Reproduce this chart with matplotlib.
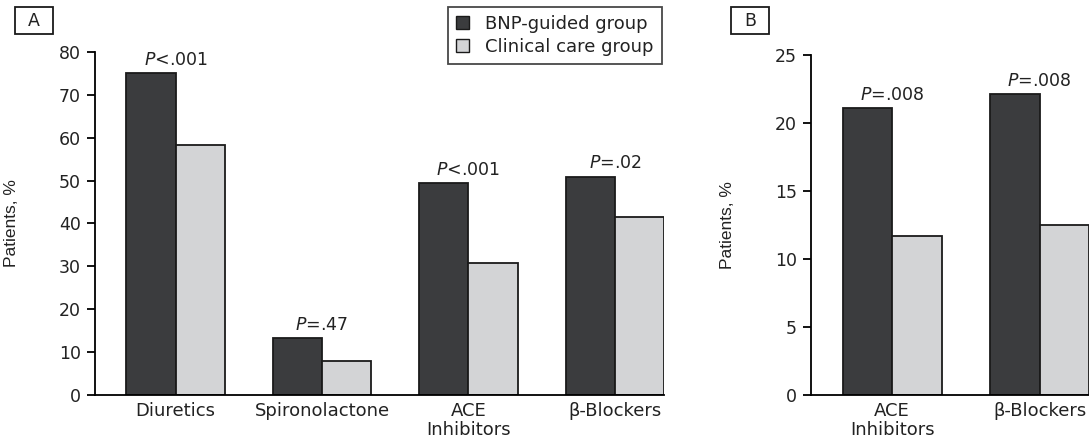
import numpy as np
import matplotlib
matplotlib.use("Agg")
import matplotlib.pyplot as plt
from matplotlib.patches import Rectangle, Patch

plt.rcParams['font.family'] = ['DejaVu Sans']
plt.rcParams['mathtext.fontset'] = 'dejavusans'

# data
cats_a = ["Diuretics", "Spironolactone", "ACE\nInhibitors", "\u03b2-Blockers"]
bnp_a = [75, 13.2, 49.4, 50.9]
care_a = [58.2, 8.0, 30.8, 41.4]
pvals_a = ["$P$<.001", "$P$=.47", "$P$<.001", "$P$=.02"]

cats_b = ["ACE\nInhibitors", "\u03b2-Blockers"]
bnp_b = [21.1, 22.1]
care_b = [11.7, 12.5]
pvals_b = ["$P$=.008", "$P$=.008"]

dark = "#3b3c3e"
light = "#d3d4d6"
edge = "#1a1a1a"
txt = "#222222"
W, H = 1089, 443
fs = 12.5

fig = plt.figure(figsize=(W / 100, H / 100), dpi=100)


def panel(rect, cats, bnp, care, pvals, ylim, step, label_x):
    ax = fig.add_axes(rect)
    x = np.arange(len(cats))
    w = 0.335
    ax.bar(x - w / 2, bnp, w, color=dark, edgecolor=edge, linewidth=1.3)
    ax.bar(x + w / 2, care, w, color=light, edgecolor=edge, linewidth=1.3)
    for xi, yi, p in zip(x, bnp, pvals):
        ax.annotate(p, (xi, yi), xytext=(0, 6), textcoords="offset points",
                    ha="center", va="baseline", fontsize=fs, color=txt)
    ax.set_xlim(-0.55, len(cats) - 1 + w)
    ax.set_ylim(0, ylim)
    ax.set_yticks(np.arange(0, ylim + 1, step))
    ax.set_xticks(x)
    ax.set_xticklabels(cats, linespacing=1.05)
    ax.tick_params(axis="x", length=0, pad=5, labelsize=13, labelcolor=txt)
    ax.tick_params(axis="y", length=6, width=1.3, pad=4, labelsize=fs, labelcolor=txt)
    for s in ["top", "right"]:
        ax.spines[s].set_visible(False)
    for s in ["left", "bottom"]:
        ax.spines[s].set_linewidth(1.3)
    ax.set_ylabel("Patients, %", family="Liberation Sans", fontsize=12.5, color=txt)
    ax.yaxis.set_label_coords(label_x, 0.5)
    return ax


bot = (H - 395) / H
panel([95 / W, bot, 569 / W, 343 / H], cats_a, bnp_a, care_a, pvals_a, 80, 10, -0.134)
panel([811 / W, bot, 278 / W, 340 / H], cats_b, bnp_b, care_b, pvals_b, 25, 5, -0.273)

# panel letters in boxes
for lx, letter in [(15, "A"), (731, "B")]:
    fig.patches.append(Rectangle((lx / W, 1 - 34 / H), 38 / W, 27 / H,
                                 transform=fig.transFigure, fill=False,
                                 edgecolor=edge, linewidth=1.3))
    fig.text((lx + 19) / W, 1 - 20.5 / H, letter, ha="center", va="center",
             fontsize=12.5, color=txt)

handles = [Patch(facecolor=dark, edgecolor=edge, label="BNP-guided group"),
           Patch(facecolor=light, edgecolor=edge, label="Clinical care group")]
leg = fig.legend(handles=handles, loc="upper right", bbox_to_anchor=(662 / W, 1 - 7 / H),
                 fontsize=13, frameon=True, fancybox=False, handlelength=0.7,
                 handleheight=0.7, handletextpad=0.9, labelspacing=0.25,
                 borderpad=0.45, borderaxespad=0, labelcolor=txt)
leg.get_frame().set_edgecolor(edge)
leg.get_frame().set_linewidth(1.3)

fig.savefig("out.png", dpi=100)
